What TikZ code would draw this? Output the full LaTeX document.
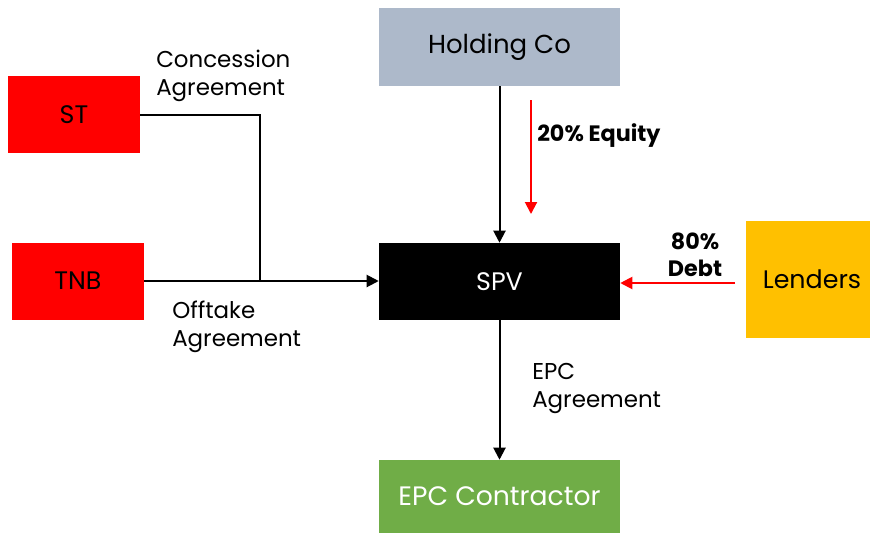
\documentclass[tikz,border=0pt]{standalone}
\usepackage{fontspec}
\setmainfont{Poppins}
\usetikzlibrary{arrows.meta}
\definecolor{hold}{HTML}{ADB9CA}
\definecolor{lend}{HTML}{FFC000}
\definecolor{epc}{HTML}{70AD47}
\begin{document}
\begin{tikzpicture}[x=0.75pt,y=-0.75pt,
  box/.style={draw=none,inner sep=0pt,font=\fontsize{19}{22}\selectfont},
  conn/.style={line width=1.5pt,-{Triangle[length=9pt,width=9pt]}},
  redarr/.style={red,line width=1.5pt,-{Triangle[length=9pt,width=9pt]}},
  lbl/.style={font=\fontsize{17.2}{21}\selectfont,align=left,anchor=west,inner sep=0pt},
  blbl/.style={font=\fontsize{16.7}{20}\selectfont\bfseries,inner sep=0pt}]
\useasboundingbox (0,0) rectangle (870,533);
\node[box,fill=red,minimum width=99pt,minimum height=57.75pt] (st) at (74,114.5) {ST};
\node[box,fill=red,minimum width=99pt,minimum height=57.75pt] (tnb) at (78,281) {TNB};
\node[box,fill=hold,minimum width=180.75pt,minimum height=58.5pt,font=\fontsize{19.5}{22}\selectfont] (hold) at (499.5,47) {Holding Co};
\node[box,fill=black,text=white,minimum width=180.75pt,minimum height=57.75pt] (spv) at (499.5,281.5) {SPV};
\node[box,fill=lend,minimum width=93pt,minimum height=87.75pt] (lend) at (808,279.5) {\hspace*{6pt}Lenders};
\node[box,fill=epc,text=white,minimum width=180.75pt,minimum height=54.75pt,font=\fontsize{20}{22}\selectfont] (epc) at (499.5,496.5) {EPC Contractor};
\coordinate (j) at (260,281);
\coordinate (eqs) at (531,100);
\coordinate (eqe) at (531,214);
\coordinate (ds) at (735,283);
\draw[line width=1.5pt] (st.east) -- (st.east -| j) -- (j);
\draw[conn] (tnb.east) -- (spv.west |- tnb.east);
\draw[conn] (hold.south) -- (spv.north);
\draw[conn] (spv.south) -- (epc.north);
\draw[redarr] (eqs) -- (eqe);
\draw[redarr] (ds) -- (spv.east |- ds);
\node[lbl] (conc) at (156,76) {Concession\\Agreement};
\node[lbl] (off) at (172,327) {Offtake\\Agreement};
\node[lbl] (epca) at (532,388) {EPC\\Agreement};
\node[blbl,anchor=west] (eq) at (537,136) {20\% Equity};
\node[blbl,align=center] (debt) at (695,255) {80\%\\Debt};
\end{tikzpicture}
\end{document}
